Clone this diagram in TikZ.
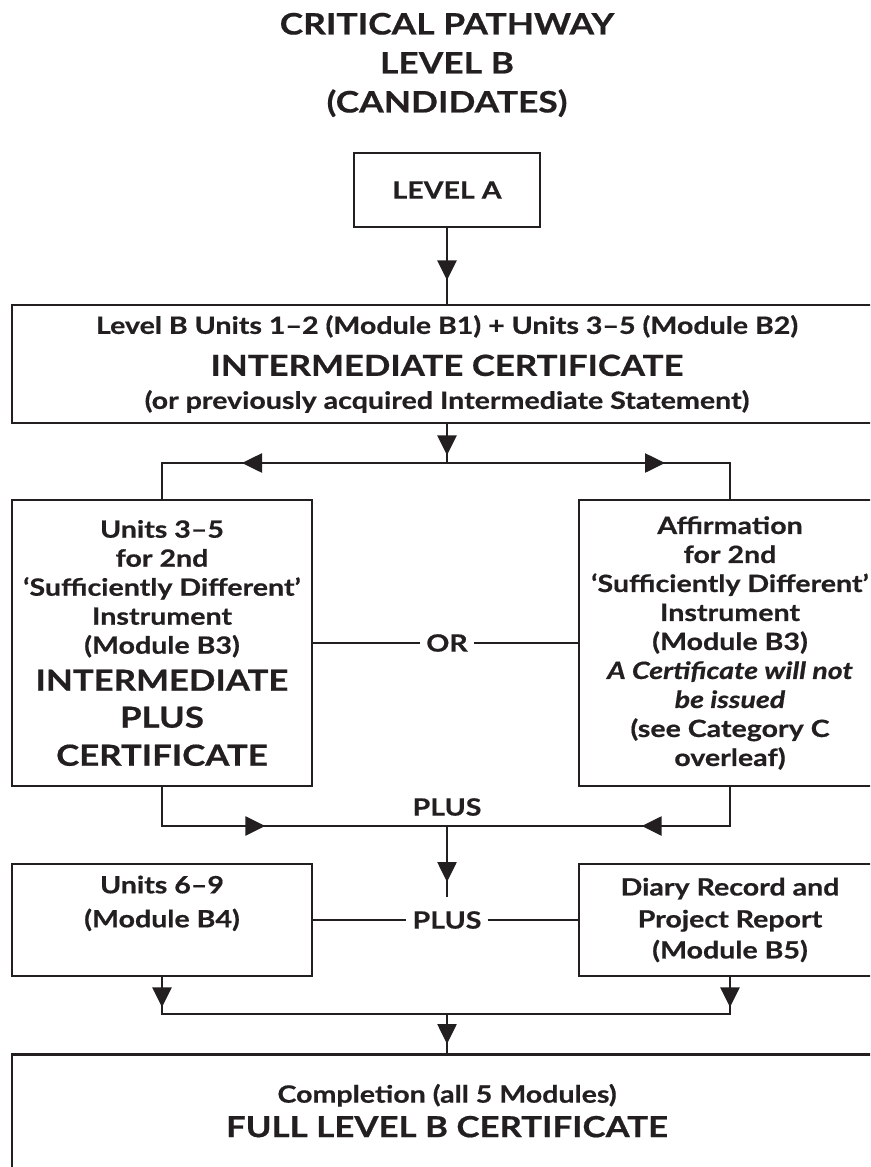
\documentclass[tikz,border=0pt]{standalone}
\usepackage{fontspec}
\setmainfont{Lato}[FakeStretch=1.2, BoldFeatures={FakeBold=0.6}, BoldItalicFeatures={FakeBold=0.6}]
\usetikzlibrary{arrows.meta,decorations.markings}
\definecolor{ink}{HTML}{231F20}
\newcommand\normaltext{\fontsize{23.8}{29}\selectfont\bfseries}
\newcommand\bigtext{\fontsize{29}{38}\selectfont\bfseries}
\newcommand\titletext{\fontsize{29.5}{39}\selectfont\bfseries}
\tikzset{
  box/.style={draw=ink, line width=2.6pt, fill=white, align=center, text=ink,
    font=\normaltext, inner sep=0pt},
  conn/.style={draw=ink, line width=2.6pt},
  midarrow/.style={postaction={decorate}, decoration={markings,
    mark=at position #1 with {\arrow{Triangle[length=20pt,width=19pt]}}}},
  lbl/.style={text=ink, font=\normaltext, inner xsep=6pt, inner ysep=14pt},
}
\begin{document}
\begin{tikzpicture}[x=1pt,y=-1pt]
\clip (0,0) rectangle (870,1167);
\fill[white] (0,0) rectangle (870,1167);
\node[text=ink, font=\titletext, align=center] (title) at (447,65)
  {CRITICAL PATHWAY\\LEVEL B\\(CANDIDATES)};
\node[box, minimum width=186pt, minimum height=74pt] (levelA) at (447,190) {LEVEL A};
\node[box, minimum width=870pt, minimum height=118pt] (main) at (447,364)
  {Level B Units 1–2 (Module B1) + Units 3–5 (Module B2)\\[13pt]
   \bigtext INTERMEDIATE CERTIFICATE\\[4pt]
   (or previously acquired Intermediate Statement)};
\node[box, minimum width=300pt, minimum height=286pt] (leftbox) at (162,643)
  {Units 3–5\\for 2nd\\‘Sufficiently Different’\\Instrument\\(Module B3)\\[8pt]
   \bigtext INTERMEDIATE\\[8pt]\bigtext PLUS\\[9pt]\bigtext CERTIFICATE};
\node[box, minimum width=302pt, minimum height=286pt] (rightbox) at (730,643)
  {Affirmation\\for 2nd\\‘Sufficiently Different’\\Instrument\\(Module B3)\\
   \itshape A Certificate will not\\\itshape be issued\\(see Category C\\overleaf)};
\node[lbl] (orlbl) at (447,643) {OR};
\node[text=ink, font=\normaltext] (plus1) at (447,807) {PLUS};
\node[box, minimum width=300pt, minimum height=112pt, text depth=37pt] (unitsbox) at (162,920)
  {Units 6–9\\[5pt](Module B4)};
\node[box, minimum width=302pt, minimum height=112pt] (diarybox) at (730,920)
  {Diary Record and\\[3pt]Project Report\\[2pt](Module B5)};
\node[lbl] (plus2) at (447,920) {PLUS};
\node[box, minimum width=870pt, minimum height=140pt, text depth=27.5pt, anchor=north] (finalbox) at (447,1053)
  {Completion (all 5 Modules)\\[5.5pt]\bigtext FULL LEVEL B CERTIFICATE};
\coordinate (j1) at (447,463);
\coordinate (j2) at (447,826);
\coordinate (j3) at (447,1014);
\draw[conn, midarrow=52pt] (levelA.south) -- (main.north);
\draw[conn, midarrow=31pt] (main.south) -- (j1);
\draw[conn, midarrow=205pt] (j1) -| (leftbox.north);
\draw[conn, midarrow=218pt] (j1) -| (rightbox.north);
\draw[conn] (leftbox.east) -- (orlbl.west);
\draw[conn] (orlbl.east) -- (rightbox.west);
\draw[conn, midarrow=142pt] (leftbox.south) |- (j2);
\draw[conn, midarrow=127pt] (rightbox.south) |- (j2);
\draw[conn, midarrow=56pt] (j2) -- (plus2.north);
\draw[conn] (unitsbox.east) -- (plus2.west);
\draw[conn] (plus2.east) -- (diarybox.west);
\draw[conn, midarrow=30pt] (unitsbox.south) |- (j3);
\draw[conn, midarrow=30pt] (diarybox.south) |- (j3);
\draw[conn, midarrow=30pt] (j3) -- (finalbox.north);
\end{tikzpicture}
\end{document}
